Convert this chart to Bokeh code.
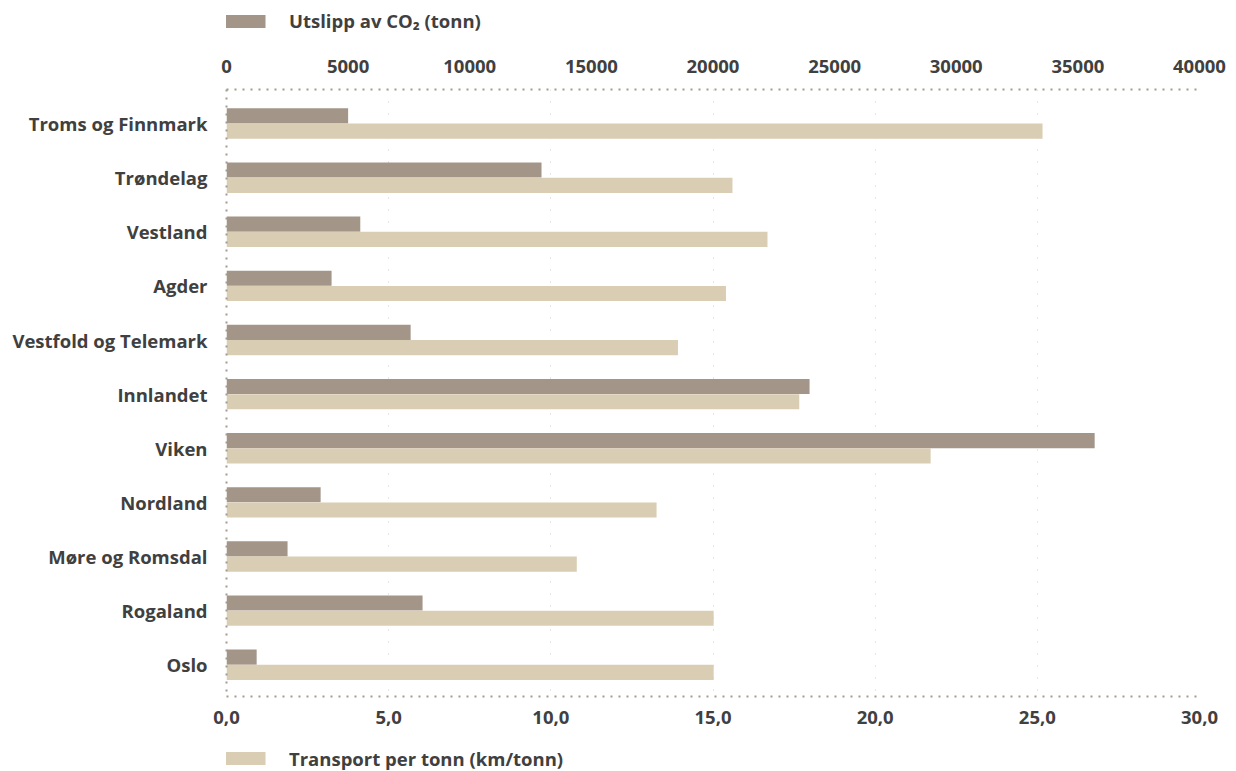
from bokeh.plotting import figure
from bokeh.layouts import column
from bokeh.models import (ColumnDataSource, Range1d, LinearAxis, FixedTicker,
                          Legend, LegendItem, CustomJSTickFormatter)
from bokeh.transform import dodge
from bokeh.embed import file_html
from bokeh.resources import INLINE

categories = ["Troms og Finnmark", "Trøndelag", "Vestland", "Agder",
              "Vestfold og Telemark", "Innlandet", "Viken", "Nordland",
              "Møre og Romsdal", "Rogaland", "Oslo"]
co2_tonn = [5000, 12950, 5500, 4320, 7570, 23970, 35690, 3870, 2510, 8060, 1240]
transport_km_per_tonn = [25.16, 15.60, 16.68, 15.40, 13.92, 17.66, 21.71,
                         13.26, 10.80, 15.02, 15.02]
co2_ticks = [0, 5000, 10000, 15000, 20000, 25000, 30000, 35000, 40000]
transport_ticks = [0, 5, 10, 15, 20, 25, 30]
co2_label = "Utslipp av CO₂ (tonn)"
transport_label = "Transport per tonn (km/tonn)"

FONT = "Open Sans"
FS = "18.5px"
TEXT = "#404040"
AXIS_DOT = "#a39a90"
CO2_COLOR = "#a39588"
TRANSPORT_COLOR = "#d9cdb3"
W = 1230
LEFT = 226

n = len(categories)
src = ColumnDataSource(dict(pos=list(range(n)), name=categories,
                            co2=co2_tonn, transport=transport_km_per_tonn))

p = figure(width=W, height=704, output_backend="svg", toolbar_location=None,
           x_range=Range1d(0, 30), y_range=Range1d(n - 1 + 0.586, -0.629),
           min_border_left=LEFT, min_border_right=W - 1199,
           min_border_top=48, min_border_bottom=49)
p.extra_x_ranges = {"co2": Range1d(0, 40000)}
p.outline_line_color = None

r_co2 = p.hbar(y=dodge("pos", -0.141), right="co2", left=0,
               height=0.28, source=src, x_range_name="co2",
               fill_color=CO2_COLOR, line_color=None)
r_tr = p.hbar(y=dodge("pos", 0.141), right="transport", left=0,
              height=0.28, source=src,
              fill_color=TRANSPORT_COLOR, line_color=None)

def style_axis(ax):
    ax.axis_line_color = AXIS_DOT
    ax.axis_line_width = 2
    ax.axis_line_dash = "2 6"
    ax.major_tick_line_color = None
    ax.minor_tick_line_color = None
    ax.major_tick_out = 0
    ax.major_tick_in = 0
    ax.major_label_text_font = FONT
    ax.major_label_text_font_style = "bold"
    ax.major_label_text_font_size = FS
    ax.major_label_text_color = TEXT

xa = p.xaxis[0]
style_axis(xa)
xa.ticker = FixedTicker(ticks=transport_ticks)
xa.formatter = CustomJSTickFormatter(code="return tick.toFixed(1).replace('.', ',');")
xa.major_label_standoff = 14

ya = p.yaxis[0]
style_axis(ya)
ya.ticker = FixedTicker(ticks=list(range(n)))
ya.major_label_overrides = {i: c for i, c in enumerate(categories)}
ya.major_label_standoff = 19

ta = LinearAxis(x_range_name="co2", ticker=FixedTicker(ticks=co2_ticks))
style_axis(ta)
ta.major_label_standoff = 17
p.add_layout(ta, "above")

p.xgrid.grid_line_color = "#cccccc"
p.xgrid.grid_line_dash = "1 11"
p.xgrid.grid_line_width = 1
p.xgrid.ticker = FixedTicker(ticks=transport_ticks)
p.ygrid.grid_line_color = None


def legend_fig(label, color, h, vy):
    f = figure(width=W, height=h, output_backend="svg", toolbar_location=None,
               x_axis_type=None, y_axis_type=None,
               x_range=Range1d(0, 1), y_range=Range1d(0, 1),
               min_border_left=LEFT, min_border_right=W - 1199,
               min_border_top=0, min_border_bottom=0)
    f.outline_line_color = None
    f.grid.grid_line_color = None
    swatch_src = ColumnDataSource(dict(y=[0.5], right=[0]))
    r = f.hbar(y="y", right="right", left=0, height=0.5, source=swatch_src,
               fill_color=color, line_color=None)
    lg = Legend(items=[LegendItem(label=label, renderers=[r])],
                orientation="horizontal", location=(-6, vy),
                margin=0, padding=0, spacing=0, glyph_width=50, glyph_height=16,
                label_standoff=19, label_text_font=FONT,
                label_text_font_style="bold", label_text_font_size=FS,
                label_text_color=TEXT, border_line_color=None,
                background_fill_alpha=0)
    f.add_layout(lg)
    return f

top = legend_fig(co2_label, CO2_COLOR, 41, 8)
bottom = legend_fig(transport_label, TRANSPORT_COLOR, 26, 0.5)

layout = column(top, p, bottom, spacing=0)
open("out.html", "w").write(file_html(layout, INLINE))
